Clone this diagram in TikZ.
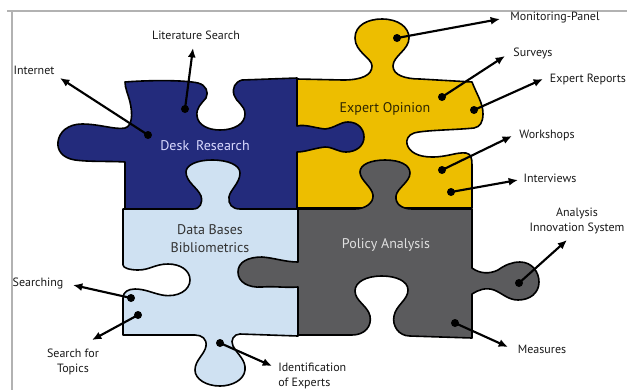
\documentclass[tikz,border=0pt]{standalone}
\usepackage{fontspec}
\setmainfont{PT Sans}
\usetikzlibrary{arrows.meta}

\definecolor{deskblue}{HTML}{232B7C}
\definecolor{opinionyellow}{HTML}{EDBE00}
\definecolor{databaseblue}{HTML}{CFE1F2}
\definecolor{policygray}{HTML}{5B5B5D}

\tikzset{
  piece/.style={draw=black, line width=1.2pt, line join=round},
  pointer/.style={-{Latex[length=7pt,width=6pt]}, line width=1.6pt},
  lbl/.style={font=\fontsize{9}{11.5}\selectfont, inner sep=0pt, text=black!90},
  title/.style={font=\fontsize{10.5}{13.5}\selectfont, align=center, inner sep=0pt}
}

\begin{document}
\begin{tikzpicture}[x=0.75pt, y=-0.75pt]
        \useasboundingbox (0,0) rectangle (627,390);
        % page frame
        \draw[black!30, line width=0.8pt] (7,11) -- (627,11);
        \draw[black!30, line width=1pt] (12,11) -- (12,390);

        % Expert Opinion
        \filldraw[piece, fill=opinionyellow] (297,79) -- (343,80)
            .. controls (362,80) and (372,75) .. (372,66)
            .. controls (372,58) and (355,52) .. (355,38)
            .. controls (355,25) and (368,19) .. (382,19)
            .. controls (398,19) and (409,27) .. (409,38)
            .. controls (409,50) and (393,56) .. (393,66)
            .. controls (393,75) and (405,79) .. (420,79) -- (472,82)
            .. controls (477,95) and (483,103) .. (483,114)
            .. controls (483,122) and (480,127) .. (474,128)
            .. controls (455,130) and (425,130) .. (414,133)
            .. controls (408,135) and (406,140) .. (407,144)
            .. controls (409,152) and (418,157) .. (432,157)
            .. controls (448,157) and (456,152) .. (466,153)
            .. controls (471,154) and (472,158) .. (472,165) -- (472,208)
            -- (297,208) -- cycle;

        % Desk Research
        \filldraw[piece, fill=deskblue] (125,82)
            .. controls (150,80) and (185,80) .. (198,83)
            .. controls (206,85) and (209,92) .. (206,98)
            .. controls (201,104) and (196,108) .. (197,116)
            .. controls (198,125) and (208,130) .. (220,130)
            .. controls (234,130) and (245,124) .. (245,114)
            .. controls (245,105) and (236,102) .. (234,95)
            .. controls (232,88) and (235,82) .. (242,80) -- (297,78)
            -- (297,126)
            .. controls (305,124) and (315,128) .. (325,129)
            .. controls (335,128) and (340,122) .. (348,122)
            .. controls (358,122) and (364,129) .. (364,137)
            .. controls (364,146) and (356,152) .. (346,152)
            .. controls (338,152) and (333,147) .. (325,147)
            .. controls (315,148) and (305,152) .. (297,152)
            -- (297,209) -- (125,209) -- (125,162)
            .. controls (110,161) and (90,162) .. (75,160)
            .. controls (62,158) and (57,150) .. (58,142)
            .. controls (59,132) and (68,124) .. (82,124)
            .. controls (100,124) and (115,130) .. (125,128)
            .. controls (132,126) and (133,115) .. (130,102)
            .. controls (128,94) and (125,88) .. (125,82) -- cycle;

        % Data Bases / Bibliometrics
        \filldraw[piece, fill=databaseblue] (123,209) -- (193,209)
            .. controls (200,209) and (203,203) .. (201,196)
            .. controls (198,188) and (186,182) .. (186,172)
            .. controls (186,165) and (197,160) .. (212,160)
            .. controls (228,160) and (240,165) .. (240,173)
            .. controls (240,183) and (230,190) .. (229,197)
            .. controls (228,204) and (232,209) .. (240,209) -- (298,209)
            -- (298,336) -- (240,334)
            .. controls (234,334) and (230,340) .. (233,346)
            .. controls (238,355) and (246,360) .. (245,370)
            .. controls (244,380) and (232,386) .. (220,386)
            .. controls (206,386) and (195,379) .. (195,370)
            .. controls (195,360) and (205,354) .. (206,346)
            .. controls (207,339) and (202,335) .. (195,335) -- (123,335)
            -- (123,298)
            .. controls (123,292) and (128,289) .. (135,289)
            .. controls (145,289) and (152,293) .. (162,295)
            .. controls (178,298) and (190,290) .. (190,280)
            .. controls (190,270) and (180,264) .. (168,264)
            .. controls (155,264) and (150,270) .. (138,270)
            .. controls (130,270) and (123,268) .. (123,265) -- cycle;

        % Policy Analysis
        \filldraw[piece, fill=policygray] (298,209) -- (355,209)
            .. controls (365,209) and (374,203) .. (373,195)
            .. controls (372,187) and (360,180) .. (360,172)
            .. controls (360,164) and (372,160) .. (385,160)
            .. controls (400,160) and (410,165) .. (410,173)
            .. controls (410,182) and (397,188) .. (396,196)
            .. controls (395,204) and (402,209) .. (412,209) -- (472,209)
            -- (472,268)
            .. controls (480,274) and (490,274) .. (498,270)
            .. controls (505,265) and (512,262) .. (520,262)
            .. controls (532,262) and (539,272) .. (539,282)
            .. controls (539,293) and (530,300) .. (518,300)
            .. controls (508,300) and (502,293) .. (494,290)
            .. controls (486,287) and (478,290) .. (472,294) -- (472,338)
            -- (410,336)
            .. controls (398,336) and (392,325) .. (394,316)
            .. controls (396,305) and (408,300) .. (408,290)
            .. controls (408,281) and (396,276) .. (382,276)
            .. controls (366,276) and (355,282) .. (355,291)
            .. controls (355,301) and (368,306) .. (370,316)
            .. controls (372,326) and (365,335) .. (352,335) -- (298,335)
            -- (298,287)
            .. controls (285,288) and (275,286) .. (262,287)
            .. controls (248,288) and (238,282) .. (238,272)
            .. controls (238,262) and (248,257) .. (262,257)
            .. controls (275,258) and (285,262) .. (298,262) -- cycle;

        % piece titles
        \node[title, text=blue!15!white] (desk) at (205,146) {Desk\enspace Research};
        \node[title, text=black!80!opinionyellow] (opinion) at (385,109) {Expert Opinion};
        \node[title, text=black!80] (databases) at (210,239) {Data Bases\\Bibliometrics};
        \node[title, text=black!12] (policy) at (386,245) {Policy Analysis};

        % labels
        \node[lbl] (internet) at (34,70) {Internet};
        \node[lbl] (literature) at (196,35) {Literature Search};
        \node[lbl] (monitoring) at (555,18) {Monitoring-Panel};
        \node[lbl] (surveys) at (533,53) {Surveys};
        \node[lbl] (reports) at (588,79) {Expert Reports};
        \node[lbl] (workshops) at (547,135) {Workshops};
        \node[lbl] (interviews) at (550,178) {Interviews};
        \node[lbl, align=center] (innovation) at (577,221) {Analysis\\Innovation System};
        \node[lbl] (measures) at (542,349) {Measures};
        \node[lbl] (searching) at (38,283) {Searching};
        \node[lbl, align=center] (topics) at (73,362) {Search for\\Topics};
        \node[lbl, align=left, anchor=west] (experts) at (278,376) {Identification\\of Experts};

        % dots and arrow ends
        \coordinate (internet-dot) at (148,135);   \coordinate (internet-tip) at (60,78);
        \coordinate (literature-dot) at (185,109); \coordinate (literature-tip) at (193,48);
        \coordinate (monitoring-dot) at (397,38);  \coordinate (monitoring-tip) at (500,19);
        \coordinate (surveys-dot) at (442,97);     \coordinate (surveys-tip) at (505,56);
        \coordinate (reports-dot) at (474,110);    \coordinate (reports-tip) at (543,79);
        \coordinate (workshops-dot) at (442,170);  \coordinate (workshops-tip) at (512,136);
        \coordinate (interviews-dot) at (451,192); \coordinate (interviews-tip) at (518,180);
        \coordinate (innovation-dot) at (519,283); \coordinate (innovation-tip) at (567,240);
        \coordinate (measures-dot) at (455,323);   \coordinate (measures-tip) at (508,347);
        \coordinate (searching-dot) at (131,298);  \coordinate (searching-tip) at (73,285);
        \coordinate (topics-dot) at (138,315);     \coordinate (topics-tip) at (92,340);
        \coordinate (experts-dot) at (220,343);    \coordinate (experts-tip) at (272,366);

        \foreach \n in {internet, literature, monitoring, surveys, reports, workshops,
                        interviews, innovation, measures, searching, topics, experts} {
                \fill[black] (\n-dot) circle (3pt);
                \draw[pointer] (\n-dot) -- (\n-tip);
            }
    \end{tikzpicture}
\end{document}
